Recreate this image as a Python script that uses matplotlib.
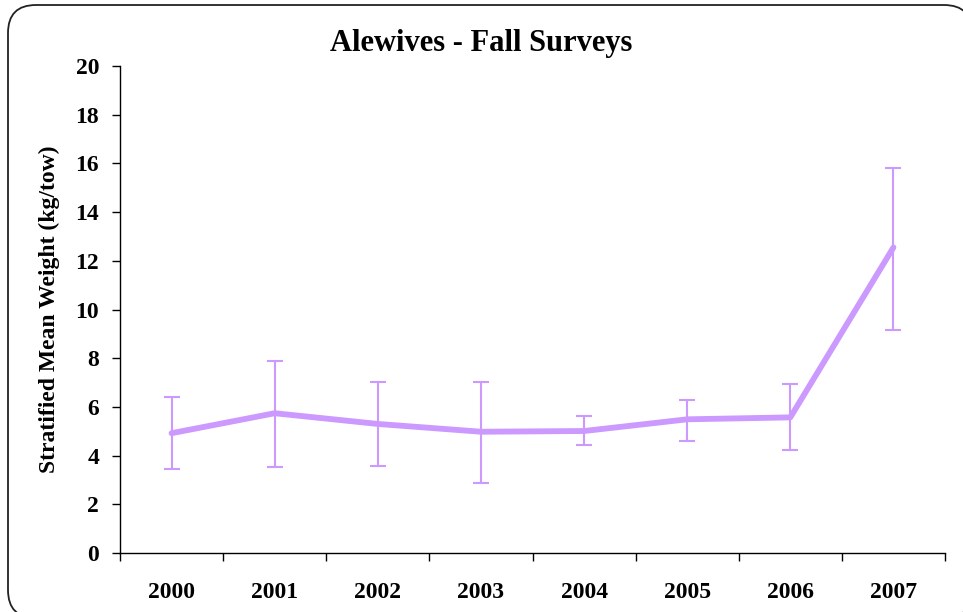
import matplotlib
matplotlib.use("Agg")
import matplotlib.pyplot as plt
from matplotlib.patches import FancyBboxPatch
from matplotlib.transforms import Affine2D
import numpy as np

years = ["2000", "2001", "2002", "2003", "2004", "2005", "2006", "2007"]
means = [4.92, 5.74, 5.30, 4.98, 5.01, 5.49, 5.57, 12.55]
upper = [6.41, 7.88, 7.04, 7.04, 5.64, 6.30, 6.94, 15.82]
lower = [3.44, 3.52, 3.59, 2.86, 4.42, 4.59, 4.24, 9.17]
yticks = [0, 2, 4, 6, 8, 10, 12, 14, 16, 18, 20]

plt.rcParams['font.family'] = ['Liberation Serif', 'DejaVu Serif']
plt.rcParams['font.weight'] = 'bold'

W, H = 963, 612
fig = plt.figure(figsize=(W / 100, H / 100), dpi=100)
px = Affine2D().scale(1.0 / W, 1.0 / H) + fig.transFigure
# rounded outer frame in pixel coords (origin bottom-left), filled so no path clipping artifacts
border = FancyBboxPatch((8, H - 618), 964, 613,
                        boxstyle="round,pad=0,rounding_size=28",
                        transform=px, facecolor='white',
                        edgecolor='#222222', linewidth=1.3, zorder=-5)
fig.patches.append(border)

ax = fig.add_axes([120 / W, 1 - 553 / H, 825 / W, 487 / H])
ax.set_facecolor('none')
x = np.arange(len(years))
m = np.array(means)
yerr = np.array([m - np.array(lower), np.array(upper) - m])
color = '#CC99FF'
ax.errorbar(x, m, yerr=yerr, fmt='none', ecolor=color, elinewidth=1.5,
            capsize=5.8, capthick=1.5, zorder=2)
ax.plot(x, m, color=color, linewidth=4.2, solid_capstyle='round', zorder=3)

ax.set_xlim(-0.5, len(years) - 0.5)
ax.set_ylim(0, 20)
ax.set_yticks(yticks)
ax.set_yticklabels([str(v) for v in yticks], fontsize=17, fontweight='bold')
ax.set_xticks(np.arange(-0.5, len(years) + 0.5, 1.0))
ax.set_xticklabels([])
ax.set_xticks(x, minor=True)
ax.set_xticklabels(years, minor=True, fontsize=17, fontweight='bold')
ax.tick_params(axis='x', which='major', length=6, width=1, direction='out')
ax.tick_params(axis='x', which='minor', length=0, pad=21)
ax.tick_params(axis='y', length=6, width=1, direction='out', pad=9)
for s in ['top', 'right']:
    ax.spines[s].set_visible(False)
for s in ['left', 'bottom']:
    ax.spines[s].set_linewidth(1)
    ax.spines[s].set_color('black')

ax.set_ylabel("Stratified Mean Weight (kg/tow)", fontsize=17, fontweight='bold', labelpad=11)
fig.text(0.5, 1 - 44 / H, "Alewives - Fall Surveys", ha='center', va='center',
         fontsize=22, fontweight='bold')

fig.savefig("out.png", dpi=100)
